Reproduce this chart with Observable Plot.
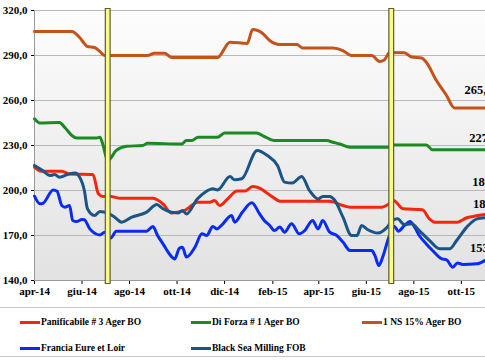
<!DOCTYPE html>
<html>
<head>
<meta charset="utf-8">
<script src="https://cdn.jsdelivr.net/npm/d3@7"></script>
<script src="https://cdn.jsdelivr.net/npm/@observablehq/plot@0.6"></script>
<style>
  html, body { margin: 0; padding: 0; background: #fff; overflow: hidden; }
  #wrap { width: 485px; height: 360px; position: relative; font-family: "Liberation Serif", serif; }
  #chart svg { overflow: hidden !important; display: block; }
  #legend { position: absolute; left: 0; top: 307px; width: 485px; height: 50px;
            border-top: 1.5px solid #c8c8c8; border-bottom: 1.5px solid #c8c8c8; box-sizing: border-box; }
  .item { position: absolute; display: flex; align-items: center; font-weight: bold; font-size: 9.5px; color: #000; white-space: nowrap; }
  .sw { width: 20px; height: 3px; margin-right: 1px; }
</style>
</head>
<body>
<div id="wrap">
  <div id="chart"></div>
  <div id="legend"></div>
</div>
<script>
// ---------- data ----------
const seriesNames = ["Panificabile # 3 Ager BO", "Di Forza # 1 Ager BO", "1 NS 15% Ager BO", "Francia Eure et Loir", "Black Sea Milling FOB"];
const seriesColors = ["#f5260c", "#1b8a22", "#c4531a", "#0a2cf2", "#1b5587"];

const panifDates = ["2014-04-01","2014-04-10","2014-05-06","2014-05-16","2014-06-15","2014-06-22","2014-06-28","2014-07-06","2014-07-19","2014-08-31","2014-09-05","2014-09-13","2014-09-24","2014-10-02","2014-10-11","2014-10-17","2014-10-27","2014-11-12","2014-11-18","2014-11-25","2014-12-05","2014-12-17","2014-12-27","2015-01-06","2015-01-12","2015-02-01","2015-02-10","2015-04-15","2015-05-02","2015-05-11","2015-06-21","2015-06-29","2015-07-06","2015-07-18","2015-08-12","2015-08-21","2015-08-28","2015-09-26","2015-10-08","2015-10-16","2015-10-31"];
const panifValues = [215.5,212.9,212.9,211,210.7,197.8,196,196.2,194.9,194.9,194.0,191,185,185.6,186.7,188.9,192.2,192.2,193.3,190,194.4,199.6,199.6,202.7,202.2,195.6,192.9,192.9,190,188.9,188.9,190.7,193.3,187.8,187.1,181.1,178.9,178.9,181.8,182.7,184];

const forzaDates = ["2014-04-01","2014-04-08","2014-05-03","2014-05-10","2014-05-19","2014-05-25","2014-06-20","2014-06-24","2014-06-27","2014-07-04","2014-07-15","2014-07-28","2014-08-18","2014-08-24","2014-10-07","2014-10-13","2014-10-20","2014-10-28","2014-11-22","2014-12-01","2015-01-11","2015-01-21","2015-02-03","2015-04-11","2015-04-19","2015-04-28","2015-05-11","2015-06-29","2015-07-07","2015-08-17","2015-08-25","2015-10-31"];
const forzaValues = [247.8,245,245.3,242,236.7,235,235,235.5,232,220,226.7,229.5,230,231.5,231,233.3,233.3,235.5,235.5,238.4,238.4,236,233.3,233.3,232.2,231,228.9,228.9,230.4,230.4,227.1,227.1];

const nsDates = ["2014-04-01","2014-05-19","2014-05-29","2014-06-04","2014-06-08","2014-06-17","2014-06-24","2014-06-30","2014-08-24","2014-09-02","2014-09-15","2014-09-24","2014-11-22","2014-12-08","2014-12-30","2015-01-06","2015-01-19","2015-01-28","2015-02-10","2015-03-04","2015-03-11","2015-04-19","2015-05-02","2015-05-13","2015-06-08","2015-06-18","2015-06-24","2015-07-01","2015-07-20","2015-07-29","2015-08-11","2015-08-17","2015-08-30","2015-09-12","2015-09-22","2015-10-31"];
const nsValues = [306,306,302,298,296,295.3,292.7,290,290,291.5,291.5,288.7,288.7,298.9,298,307.3,304.7,300,297.3,297.3,295,295,293.3,290,290,286,287,292,291.8,289,288.4,285.5,273.3,263.3,255,255];

const franciaDates = ["2014-04-01","2014-04-08","2014-04-12","2014-04-25","2014-04-30","2014-05-06","2014-05-10","2014-05-16","2014-05-20","2014-05-25","2014-06-01","2014-06-04","2014-06-11","2014-06-24","2014-06-30","2014-07-08","2014-07-15","2014-08-23","2014-08-31","2014-09-06","2014-09-13","2014-09-21","2014-09-28","2014-10-04","2014-10-08","2014-10-13","2014-10-24","2014-11-02","2014-11-08","2014-11-16","2014-11-21","2014-11-27","2014-12-10","2014-12-14","2014-12-24","2015-01-05","2015-01-15","2015-01-21","2015-01-28","2015-02-03","2015-02-10","2015-02-16","2015-02-25","2015-03-07","2015-03-14","2015-03-24","2015-03-31","2015-04-06","2015-04-15","2015-04-24","2015-05-02","2015-05-11","2015-06-08","2015-06-12","2015-06-17","2015-06-22","2015-06-30","2015-07-07","2015-07-12","2015-07-20","2015-07-27","2015-08-02","2015-08-08","2015-08-17","2015-08-25","2015-09-06","2015-09-12","2015-09-20","2015-09-26","2015-10-03","2015-10-21","2015-10-31"];
const franciaValues = [196.2,191.1,191.5,200.4,199.5,190,188.9,190,180,179.3,180.7,180.5,174.4,170.4,172.2,168.4,172.9,172.9,176,170,164.4,157.8,154.4,161.5,162.2,155.6,162.2,171.1,170,176,174.4,176.7,183.3,178.9,185.6,191.8,184.4,180,176.7,173.3,175.6,172.2,177.8,171.1,173.3,180,174.4,180,172.2,170,165.6,160,160,156.7,150,155.6,168.9,176,172.9,176.7,179.3,175.6,170,164.4,160,154.4,153.8,148.9,151.6,150.7,151.1,153.3];

const blackDates = ["2014-04-01","2014-04-10","2014-04-21","2014-04-27","2014-05-03","2014-05-16","2014-05-23","2014-05-29","2014-06-04","2014-06-08","2014-06-17","2014-06-24","2014-07-04","2014-07-13","2014-07-22","2014-08-04","2014-08-23","2014-09-05","2014-09-13","2014-10-02","2014-10-08","2014-10-13","2014-10-27","2014-11-06","2014-11-16","2014-11-22","2014-12-08","2014-12-14","2014-12-23","2015-01-12","2015-01-25","2015-02-07","2015-02-16","2015-02-26","2015-03-10","2015-03-20","2015-03-31","2015-04-06","2015-04-15","2015-04-21","2015-05-02","2015-05-13","2015-05-20","2015-05-26","2015-06-03","2015-06-16","2015-06-27","2015-07-05","2015-07-11","2015-07-20","2015-07-29","2015-08-08","2015-08-21","2015-09-03","2015-09-16","2015-09-25","2015-10-08","2015-10-21","2015-10-31"];
const blackValues = [216.7,213.8,210,210.7,208.9,211.1,211.6,208.9,200,187.8,183.3,186,184.9,182.2,178.9,182.2,185.6,190.7,187.8,185,186.7,184.4,194.4,198.9,201.1,200.4,209.3,207.1,207.8,226.7,223.3,216.7,205.6,205,209.3,200,194.4,196,196,193.8,182.2,170,170,176.7,173.8,171.6,175.1,180,181.1,177.3,177.8,173.3,166.7,161.1,161.1,166.7,175.6,181.1,181.8];

const harvestDates = ["2014-07-04", "2015-07-03"];
const xStart = "2014-04-01", xEnd = "2015-11-01";
const xTickDates = ["2014-04-01","2014-06-01","2014-08-01","2014-10-01","2014-12-01","2015-02-01","2015-04-01","2015-06-01","2015-08-01","2015-10-01"];
const monthNames = ["gen","feb","mar","apr","mag","giu","lug","ago","set","ott","nov","dic"];
const yTicks = [140, 170, 200, 230, 260, 290, 320];

const labelTexts = ["265,0", "227,0", "184,0", "182,0", "153,0"];
const labelDates = ["2015-10-05", "2015-10-11", "2015-10-15", "2015-10-16", "2015-10-12"];
const labelValues = [266.7, 235.3, 205.5, 191.3, 162];

// ---------- build ----------
const P = s => new Date(s + "T00:00:00Z");
const allDates = [panifDates, forzaDates, nsDates, franciaDates, blackDates];
const allValues = [panifValues, forzaValues, nsValues, franciaValues, blackValues];
const rows = [];
allDates.forEach((ds, i) => ds.forEach((d, j) => rows.push({series: seriesNames[i], date: P(d), value: allValues[i][j]})));
const labels = labelTexts.map((t, i) => ({text: t, date: P(labelDates[i]), value: labelValues[i]}));
const harvest = harvestDates.map(P);

const chart = Plot.plot({
  width: 485, height: 305,
  marginLeft: 34, marginRight: 0, marginTop: 10, marginBottom: 25,
  style: {fontFamily: "Liberation Serif", fontWeight: "bold", fontSize: "11px", color: "#000", background: "transparent", overflow: "hidden"},
  x: {type: "utc", domain: [P(xStart), P(xEnd)], ticks: xTickDates.map(P),
      tickFormat: d => monthNames[d.getUTCMonth()] + "-" + String(d.getUTCFullYear()).slice(2),
      tickSize: 4, tickPadding: 3, label: null},
  y: {domain: [140, 320], ticks: yTicks, tickFormat: d => d.toFixed(1).replace(".", ","),
      tickSize: 3, tickPadding: 4, label: null},
  color: {domain: seriesNames, range: seriesColors},
  marks: [
    Plot.frame({fill: "url(#bgGrad)", stroke: null}),
    Plot.ruleY(yTicks, {stroke: "#b8b8b8", strokeWidth: 1}),
    Plot.ruleX([P(xStart)], {stroke: "#9a9a9a", strokeWidth: 1}),
    Plot.ruleY([140], {stroke: "#9a9a9a", strokeWidth: 1}),
    Plot.line(rows, {x: "date", y: "value", z: "series", stroke: "series", strokeWidth: 3, curve: "monotone-x"}),
    Plot.ruleX(harvest, {stroke: "#5e5e2e", strokeWidth: 6, insetTop: -2, insetBottom: -4}),
    Plot.ruleX(harvest, {stroke: "#fbf98a", strokeWidth: 3.6, insetTop: -1, insetBottom: -3}),
    Plot.text(labels, {x: "date", y: "value", text: "text", textAnchor: "start", fontSize: 12.5, fontWeight: "bold", fill: "#000"})
  ]
});

const ns = "http://www.w3.org/2000/svg";
const defs = document.createElementNS(ns, "defs");
defs.innerHTML = '<linearGradient id="bgGrad" x1="0" y1="0" x2="0" y2="1">' +
  '<stop offset="0" stop-color="#fdfdfd"/><stop offset="1" stop-color="#e2e2e2"/></linearGradient>';
chart.insertBefore(defs, chart.firstChild);
document.getElementById("chart").appendChild(chart);

// legend
const legendPos = [[20, 9], [191, 9], [362, 9], [20, 35], [191, 35]];
const legend = document.getElementById("legend");
seriesNames.forEach((name, i) => {
  const it = document.createElement("div");
  it.className = "item";
  it.style.left = legendPos[i][0] + "px";
  it.style.top = legendPos[i][1] + "px";
  it.innerHTML = '<span class="sw" style="background:' + seriesColors[i] + '"></span><span>' + name + '</span>';
  legend.appendChild(it);
});
</script>
</body>
</html>
